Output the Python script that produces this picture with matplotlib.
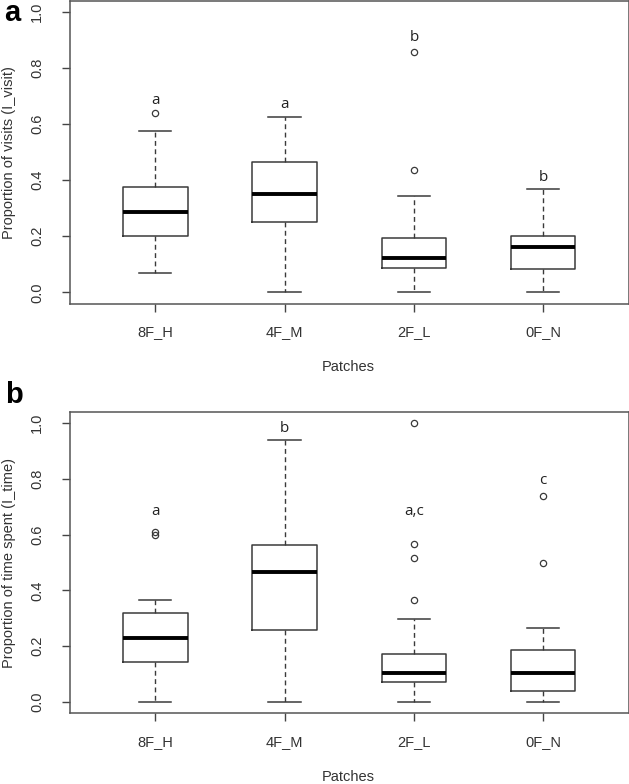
import matplotlib
matplotlib.use("Agg")
import matplotlib.pyplot as plt

plt.rcParams['font.family'] = ['Liberation Sans', 'DejaVu Sans']

groups = ["8F_H", "4F_M", "2F_L", "0F_N"]

# Panel a: proportion of visits
visit_whislo = [0.068, 0.0, 0.0, 0.0]
visit_q1 = [0.201, 0.252, 0.087, 0.082]
visit_med = [0.287, 0.352, 0.121, 0.163]
visit_q3 = [0.377, 0.466, 0.194, 0.200]
visit_whishi = [0.577, 0.627, 0.344, 0.370]
visit_fliers = [[0.641], [], [0.437, 0.857], []]
visit_letters = ["a", "a", "b", "b"]
visit_letter_y = [0.685, 0.670, 0.910, 0.410]

# Panel b: proportion of time spent
time_whislo = [0.002, 0.0, 0.0, 0.0]
time_q1 = [0.143, 0.257, 0.073, 0.039]
time_med = [0.229, 0.465, 0.103, 0.106]
time_q3 = [0.319, 0.561, 0.173, 0.186]
time_whishi = [0.364, 0.938, 0.297, 0.264]
time_fliers = [[0.598, 0.610], [], [0.367, 0.517, 0.565, 1.0], [0.500, 0.738]]
time_letters = ["a", "b", "a,c", "c"]
time_letter_y = [0.683, 0.980, 0.683, 0.794]

yticks = [0.0, 0.2, 0.4, 0.6, 0.8, 1.0]
ytick_labels = ["0.0", "0.2", "0.4", "0.6", "0.8", "1.0"]

W, H = 629, 784
fig = plt.figure(figsize=(W / 100, H / 100), dpi=100)

def px_axes(left, top, right, bottom):
    return fig.add_axes([left / W, 1 - bottom / H, (right - left) / W, (bottom - top) / H])

axA = px_axes(70, 1.1, 628.5, 303.5)
axB = px_axes(70, 411.7, 628.5, 713.3)

gray = "#3a3a3a"
txt = "#333333"

def draw(ax, whislo, q1, med, q3, whishi, fliers, letters, letter_y, ylabel):
    stats = []
    for i, g in enumerate(groups):
        stats.append(dict(label=g, whislo=whislo[i], q1=q1[i], med=med[i],
                          q3=q3[i], whishi=whishi[i], fliers=fliers[i]))
    pos = list(range(1, len(groups) + 1))
    ax.bxp(stats, positions=pos, widths=0.5, showfliers=True,
           boxprops=dict(color=gray, linewidth=1.1),
           medianprops=dict(color="black", linewidth=2.8, solid_capstyle="butt"),
           whiskerprops=dict(color=gray, linewidth=1.0, linestyle=(0, (3.5, 2.5))),
           capprops=dict(color=gray, linewidth=1.1),
           capwidths=0.25,
           flierprops=dict(marker="o", markersize=4.5, markerfacecolor="none",
                           markeredgecolor=gray, markeredgewidth=0.9))
    for i in range(len(groups)):
        ax.text(pos[i], letter_y[i], letters[i], ha="center", va="center",
                fontsize=11, color="#222222", family=["Open Sans", "DejaVu Sans"])
    ax.set_xlim(0.34, 4.66)
    ax.set_ylim(-0.04, 1.04)
    ax.set_yticks(yticks)
    ax.set_yticklabels(ytick_labels, rotation=90, va="center")
    ax.set_xticks(pos)
    ax.set_xticklabels(groups)
    ax.tick_params(axis="both", colors="#444444", labelcolor=txt, labelsize=10.5,
                   length=5.5, width=1.0)
    ax.tick_params(axis="x", pad=10)
    ax.tick_params(axis="y", pad=13)
    for s in ax.spines.values():
        s.set_color("#555555")
        s.set_linewidth(1.1)
    ax.set_ylabel(ylabel, fontsize=10.5, color=txt)
    ax.set_xlabel("Patches", fontsize=10.5, color=txt)

draw(axA, visit_whislo, visit_q1, visit_med, visit_q3, visit_whishi, visit_fliers,
     visit_letters, visit_letter_y, "Proportion of visits (I_visit)")
draw(axB, time_whislo, time_q1, time_med, time_q3, time_whishi, time_fliers,
     time_letters, time_letter_y, "Proportion of time spent (I_time)")

# label positions (figure pixels -> axes coords)
axA.xaxis.set_label_coords((348 - 70) / 558.5, -(367 - 303.5) / 302.4)
axB.xaxis.set_label_coords((348 - 70) / 558.5, -(777 - 713.3) / 301.6)
axA.xaxis.label.set_va("center")
axB.xaxis.label.set_va("center")
axA.yaxis.set_label_coords(-(70 - 9.5) / 558.5, 0.5)
axB.yaxis.set_label_coords(-(70 - 9.5) / 558.5, 0.5)
axA.yaxis.label.set_va("center")
axB.yaxis.label.set_va("center")

fig.text(12 / W, 1 - 13 / H, "a", fontsize=21, fontweight="bold", ha="center", va="center")
fig.text(14 / W, 1 - 395 / H, "b", fontsize=21, fontweight="bold", ha="center", va="center")

fig.savefig("out.png", dpi=100)
